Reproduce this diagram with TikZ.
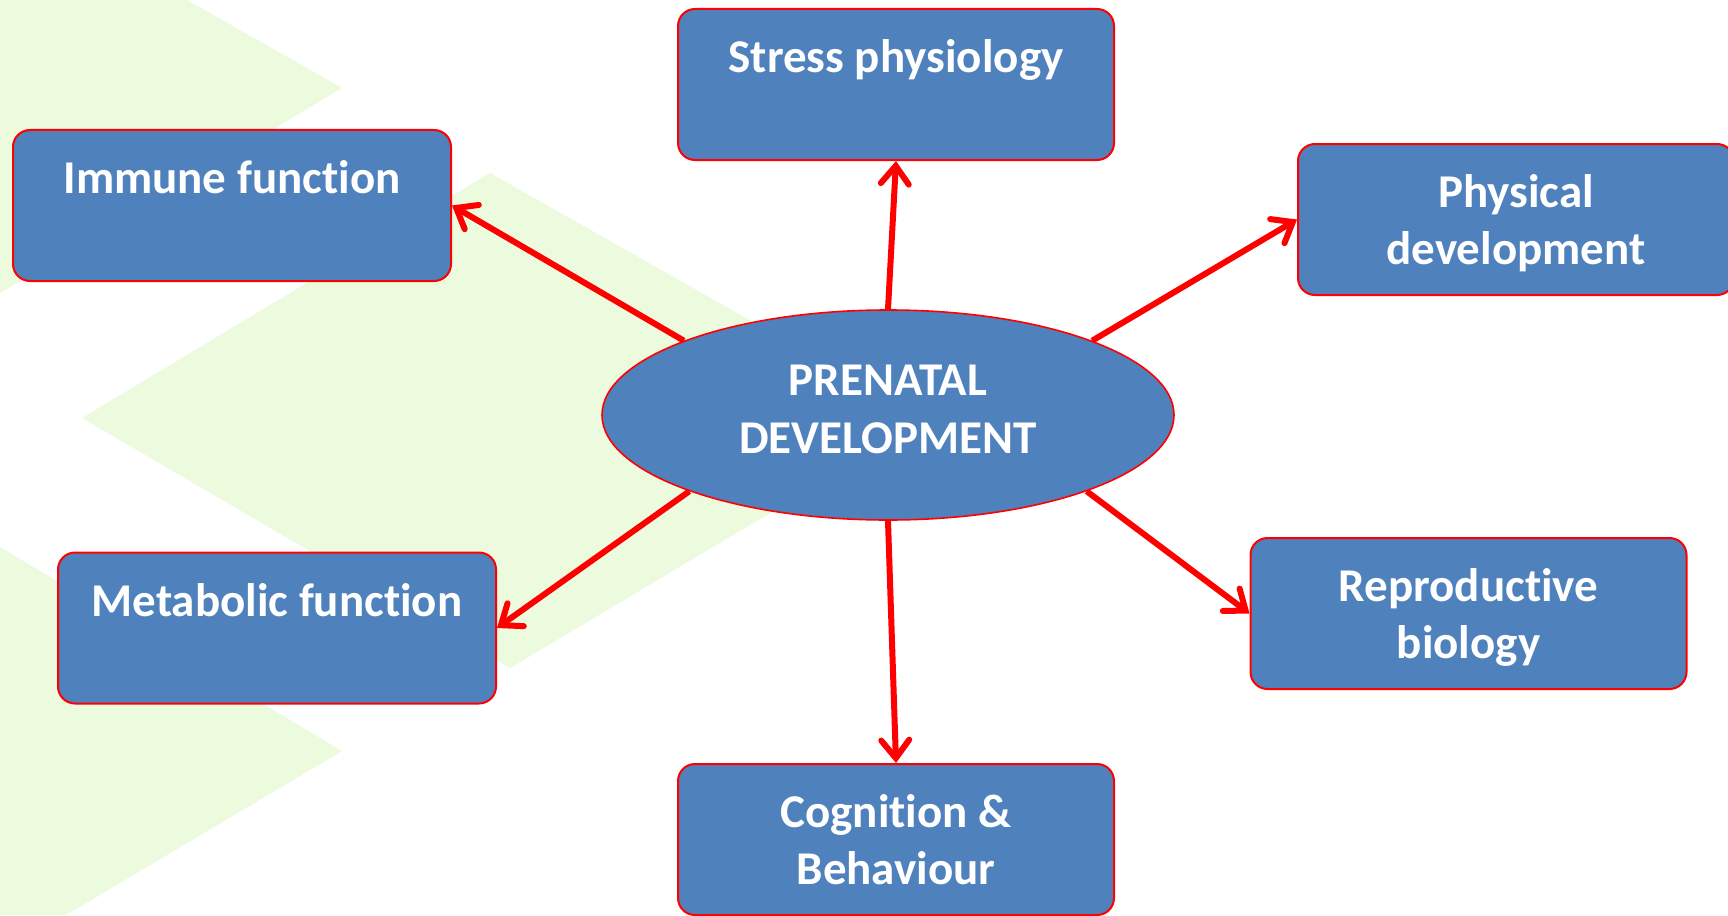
\documentclass[tikz,border=0pt]{standalone}
\usepackage{fontspec}
\setmainfont{Carlito}[Ligatures=NoCommon]
\usetikzlibrary{shapes.geometric,arrows.meta}
\definecolor{boxblue}{RGB}{79,129,189}
\definecolor{paleleaf}{RGB}{236,250,222}
% fixed line struts so every label sits at the same height in its shape
\newcommand\boxstrut{\rule[-7.5pt]{0pt}{48.5pt}}
\newcommand\hubstrut{\rule[-12pt]{0pt}{34pt}}
\tikzset{
  topic/.style={draw=red, line width=2pt, fill=boxblue, rounded corners=17pt,
    minimum width=436pt, minimum height=151pt, inner sep=0pt, align=center,
    text=white, font=\fontsize{47}{57}\selectfont\bfseries},
  hub/.style={ellipse, draw=red, line width=1.6pt, fill=boxblue,
    minimum width=572pt, minimum height=210pt, inner sep=0pt, align=center,
    text=white, font=\fontsize{47}{58}\selectfont\bfseries},
  link/.style={draw=red, line width=6pt,
    -{Straight Barb[length=18pt,width=28pt,line cap=round]}}
}
\begin{document}
\begin{tikzpicture}[x=1pt,y=-1pt]
\useasboundingbox (0,0) rectangle (1728,915);
\fill[white] (0,0) rectangle (1728,915);
% pale chevrons behind the diagram
\fill[paleleaf] (0,0) -- (187,0) -- (342,88) -- (0,293) -- cycle;
\fill[paleleaf] (82,418) -- (490,173) -- (926,420) -- (510,668) -- cycle;
\fill[paleleaf] (0,547) -- (342,751) -- (66,915) -- (0,915) -- cycle;
% outcome boxes
\node[topic] (stress) at (896,84.5) {\boxstrut Stress physiology\\\boxstrut};
\node[topic, minimum width=438pt] (immune) at (232,205.5) {\boxstrut Immune function\\\boxstrut};
\node[topic] (physical) at (1516,219.5) {\boxstrut Physical\\\boxstrut development};
\node[topic] (repro) at (1468.5,613.5) {\boxstrut Reproductive\\\boxstrut biology};
\node[topic, minimum width=438pt] (metab) at (277,628) {\boxstrut Metabolic function\\\boxstrut};
\node[topic] (cog) at (896,839.5) {\boxstrut Cognition \&\\\boxstrut Behaviour};
% central hub
\node[hub] (pre) at (888,415) {\hubstrut PRENATAL\\\hubstrut DEVELOPMENT};
% connectors
\draw[link] (pre.north) -- (stress.south);
\draw[link] (pre.160) -- (immune.east);
\draw[link] (pre.20) -- (physical.west);
\draw[link] (pre.-21) -- (repro.west);
\draw[link] (pre.201) -- (metab.east);
\draw[link] (pre.south) -- (cog.north);
\end{tikzpicture}
\end{document}
